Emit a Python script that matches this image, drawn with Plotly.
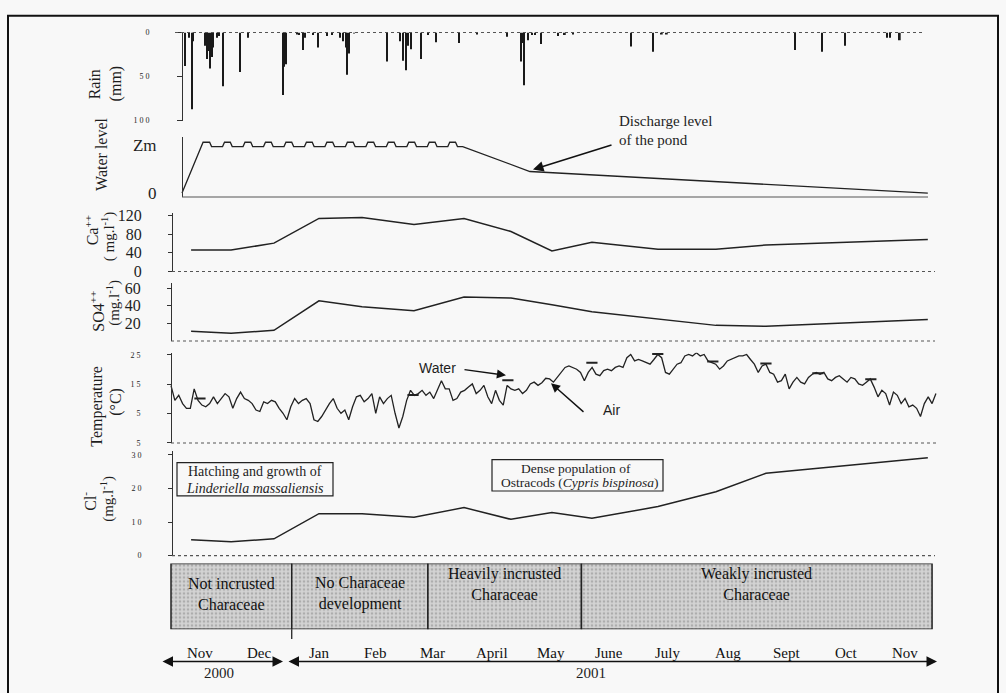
import plotly.graph_objects as go

# ---------------- DATA (x = days since 1 Nov 2000) ----------------
rain_day = [7.2, 9.3, 10.9, 11.4, 17.6, 18.6, 19.2, 20.2, 21.2, 21.7, 23.8, 24.8, 26.9, 35.7, 39.9,
            58.0, 58.5, 59.5, 65.2, 66.3, 68.3, 69.4, 73.5, 76.1, 80.7, 83.3, 87.5, 89.0, 90.6, 91.1,
            92.1, 94.7, 111.8, 118.5, 120.1, 121.6, 122.7, 124.2, 129.4, 133.0, 137.2, 149.1, 158.4,
            173.9, 181.2, 182.2, 182.7, 184.8, 186.9, 188.4, 191.5, 200.3, 203.9, 208.1, 238.1, 249.5,
            254.1, 256.7, 323.0, 337.0, 348.9, 370.6, 372.2, 377.3]
rain_mm = [38, 6, 87, 10, 15, 30, 21, 41, 28, 17, 6, 4, 61, 45, 6,
           71, 39, 36, 2, 3, 20, 6, 3, 17, 4, 3, 6, 10, 17, 48,
           24, 1, 33, 10, 32, 43, 15, 19, 30, 3, 11, 12, 2,
           5, 33, 12, 60, 9, 3, 3, 13, 4, 3, 2, 16, 22,
           2, 2, 20, 22, 15, 6, 6, 9]

# water level relative to Zm (=1)
wl_day = [5.7, 16.6, 20.0, 21.0,
          26.7, 27.7, 30.7, 31.7,
          37.3, 38.3, 41.3, 42.3,
          47.9, 48.9, 51.9, 52.9,
          58.5, 59.5, 62.5, 63.5,
          69.1, 70.1, 73.1, 74.1,
          79.7, 80.7, 83.7, 84.7,
          90.3, 91.3, 94.3, 95.3,
          100.9, 101.9, 104.9, 105.9,
          111.5, 112.5, 115.5, 116.5,
          122.1, 123.1, 126.1, 127.1,
          132.7, 133.7, 136.7, 137.7,
          143.3, 144.3, 147.3, 148.3,
          151.0, 185.8, 391.8]
wl_val = [0.0, 1.06, 1.06, 0.97,
          0.97, 1.06, 1.06, 0.97,
          0.97, 1.06, 1.06, 0.97,
          0.97, 1.06, 1.06, 0.97,
          0.97, 1.06, 1.06, 0.97,
          0.97, 1.06, 1.06, 0.97,
          0.97, 1.06, 1.06, 0.97,
          0.97, 1.06, 1.06, 0.97,
          0.97, 1.06, 1.06, 0.97,
          0.97, 1.06, 1.06, 0.97,
          0.97, 1.06, 1.06, 0.97,
          0.97, 1.06, 1.06, 0.97,
          0.97, 1.06, 1.06, 0.97,
          0.97, 0.45, 0.0]

ca_day = [10.4, 31.1, 53.3, 76.6, 98.9, 125.8, 151.7, 176.0, 197.2, 217.9, 252.1, 282.1, 308.0, 391.8]
ca_val = [46, 46, 61, 114, 116, 101, 114, 86, 44, 63, 48, 48, 57, 69]

so4_day = [10.4, 31.1, 53.3, 76.6, 98.9, 125.8, 151.7, 176.0, 197.2, 217.9, 282.1, 308.0, 391.8]
so4_val = [11.1, 8.9, 12.2, 45.6, 38.9, 34.4, 50.0, 48.9, 41.1, 33.3, 17.8, 16.7, 24.4]

air_day = list(range(0, 397, 2))
air_temp = [14.5, 9.5, 11.2, 8.4, 6.8, 6.8, 13.4, 9.5, 7.9, 7.3,
            8.4, 10.7, 8.4, 10.1, 11.8, 10.7, 6.8, 10.1, 12.3, 10.1,
            9.5, 8.4, 6.2, 5.7, 9.0, 8.4, 9.5, 9.0, 6.8, 5.1,
            2.9, 7.3, 10.1, 8.4, 9.5, 10.1, 8.4, 2.9, 2.3, 4.0,
            6.2, 8.4, 10.1, 6.8, 5.1, 6.2, 2.9, 7.3, 10.7, 11.2,
            9.0, 10.1, 11.8, 5.1, 10.7, 8.4, 10.1, 11.2, 5.1, 0.1,
            4.0, 9.5, 12.9, 11.2, 11.8, 12.9, 11.2, 12.3, 10.1, 12.9,
            16.2, 13.4, 13.4, 9.5, 10.1, 12.3, 12.9, 14.0, 15.1, 11.8,
            12.9, 14.6, 10.7, 8.4, 12.9, 9.5, 7.9, 14.6, 13.4, 12.9,
            13.4, 11.8, 12.9, 15.1, 15.7, 14.6, 15.5, 17.0, 16.8, 15.7,
            17.3, 19.0, 20.7, 21.2, 20.7, 20.1, 19.0, 16.2, 19.0, 20.7,
            18.4, 17.9, 19.6, 20.1, 19.6, 20.7, 21.2, 20.7, 24.0, 25.1,
            22.9, 23.4, 22.9, 22.3, 21.8, 23.4, 25.1, 24.0, 19.0, 18.4,
            20.1, 21.8, 22.3, 24.6, 25.1, 24.6, 25.7, 24.6, 25.1, 22.9,
            22.3, 21.8, 20.1, 21.2, 22.9, 23.4, 24.0, 24.6, 24.6, 25.1,
            23.4, 21.8, 19.0, 21.2, 21.8, 19.0, 18.4, 15.7, 16.2, 18.4,
            13.4, 15.7, 17.3, 15.7, 15.1, 17.3, 18.4, 19.0, 18.4, 19.0,
            16.8, 16.2, 17.3, 17.9, 16.8, 15.7, 17.3, 16.8, 15.1, 14.6,
            15.7, 16.8, 14.0, 10.7, 12.9, 11.8, 7.9, 12.3, 11.2, 8.4,
            10.1, 7.3, 7.9, 6.8, 4.0, 8.4, 10.7, 8.4, 11.8]
water_day = [15.0, 125.3, 174.4, 217.9, 252.0, 280.5, 308.0, 334.9, 362.3]
water_temp = [10.1, 11.3, 16.3, 22.3, 25.3, 22.7, 22.0, 18.7, 16.7]

cl_day = [10.4, 31.1, 53.3, 76.6, 98.9, 125.8, 151.7, 176.0, 197.2, 217.9, 252.1, 282.1, 308.0, 391.8]
cl_val = [4.7, 4.1, 5.0, 12.5, 12.5, 11.4, 14.3, 10.8, 12.8, 11.1, 14.6, 19.0, 24.5, 29.1]

phase_bounds = [0, 62.5, 133, 212.5, 394]
phase_labels = ["Not incrusted<br>Characeae", "No Characeae<br>development",
                "Heavily incrusted<br>Characeae", "Weakly incrusted<br>Characeae"]

month_start = [0, 30, 61, 92, 120, 151, 181, 212, 242, 273, 304, 334, 365, 395]
month_labels = ["Nov", "Dec", "Jan", "Feb", "Mar", "April", "May", "June", "July", "Aug", "Sept", "Oct", "Nov"]
year_labels = ["2000", "2001"]

# ---------------- LAYOUT HELPERS ----------------
W, H = 1006, 693
DAY_PX0 = 171.0
PX_PER_DAY = (934 - 171) / 395.0
SERIF = "Liberation Serif, Times New Roman, serif"
SANS = "Liberation Sans, Arial, sans-serif"
INK = "#1e1e1e"


def fx(p):
    return p / W


def fy(p):
    return 1 - p / H


def x_range(p0, p1):
    return [(p0 - DAY_PX0) / PX_PER_DAY, (p1 - DAY_PX0) / PX_PER_DAY]


def ydom(top, bottom):
    return [fy(bottom), fy(top)]


def yax(top, bottom, rng, pos, tickvals, ticktext, fsize, family, standoff, ticks="outside", ticklen=4):
    return dict(domain=ydom(top, bottom), range=rng, anchor="free", position=fx(pos),
                showline=True, linecolor="#333", linewidth=1, ticks=ticks, ticklen=ticklen,
                tickcolor="#333", tickvals=tickvals, ticktext=ticktext,
                tickfont=dict(family=family, size=fsize, color=INK),
                ticklabelstandoff=standoff, showgrid=False, zeroline=False)


fig = go.Figure()

fig.add_trace(go.Bar(x=rain_day, y=rain_mm, width=0.9, marker=dict(color="#1a1a1a", line=dict(width=0)),
                     xaxis="x", yaxis="y"))
fig.add_trace(go.Scatter(x=wl_day, y=wl_val, mode="lines", line=dict(color="#222", width=1.3),
                         xaxis="x", yaxis="y2"))
fig.add_trace(go.Scatter(x=ca_day, y=ca_val, mode="lines", line=dict(color="#222", width=1.5),
                         xaxis="x", yaxis="y3"))
fig.add_trace(go.Scatter(x=so4_day, y=so4_val, mode="lines", line=dict(color="#222", width=1.5),
                         xaxis="x", yaxis="y4"))
fig.add_trace(go.Scatter(x=air_day, y=air_temp, mode="lines", line=dict(color="#222", width=1.3),
                         xaxis="x", yaxis="y5"))
fig.add_trace(go.Scatter(x=water_day, y=water_temp, mode="markers",
                         marker=dict(symbol="line-ew", size=8, line=dict(color="#222", width=2)),
                         xaxis="x", yaxis="y5"))
fig.add_trace(go.Scatter(x=cl_day, y=cl_val, mode="lines", line=dict(color="#222", width=1.5),
                         xaxis="x", yaxis="y6"))
phase_mid = [(a + b) / 2 for a, b in zip(phase_bounds[:-1], phase_bounds[1:])]
phase_w = [b - a for a, b in zip(phase_bounds[:-1], phase_bounds[1:])]
fig.add_trace(go.Bar(x=phase_mid, y=[1] * len(phase_mid), width=phase_w, xaxis="x", yaxis="y7",
                     marker=dict(color="#cfcfcf",
                                 pattern=dict(shape=".", fgcolor="#888888", bgcolor="#d3d3d3",
                                              size=4, solidity=0.35),
                                 line=dict(color="#222", width=1.5))))

layout = dict(
    width=W, height=H, margin=dict(l=0, r=0, t=0, b=0), autosize=False,
    paper_bgcolor="#f8f8f8", plot_bgcolor="rgba(0,0,0,0)", showlegend=False, barmode="overlay",
    xaxis=dict(domain=[fx(150), fx(960)], range=x_range(150, 960), visible=False, anchor="y"),
    xaxis2=dict(domain=[fx(171), fx(934)], range=[month_start[0], month_start[-1]], anchor="y8", side="top",
                showline=True, linecolor="#222", linewidth=1.5, ticks="inside", ticklen=6, tickwidth=1.3,
                tickcolor="#222", tickvals=month_start, showticklabels=False, showgrid=False, zeroline=False),
    yaxis=yax(28, 118, [100, 0], 182, [0, 50, 100], ["0", "5 0", "1 0 0"], 8, SERIF, 26, ticklen=5),
    yaxis2=yax(135, 196, [(192 - 196) / 49, (192 - 135) / 49], 182, [0, 1], ["0", "Zm"], 17, SERIF, 22, ticks=""),
    yaxis3=yax(212, 272, [0, (272 - 212) / 0.475], 172, [0, 40, 80, 120], ["0", "40", "80", "120"], 16, SERIF, 23),
    yaxis4=yax(284, 343, [0, (343 - 284) / 0.9], 171, [20, 40, 60], ["20", "40", "60"], 16, SERIF, 23),
    yaxis5=yax(355, 447, [-5, 25 + 2 / 3.0], 171, [-5, 5, 15, 25], ["5", "5", "1 5", "2 5"], 8, SERIF, 25),
    yaxis6=yax(455, 562, [0, (562 - 455) / 3.43], 172, [0, 10, 20, 30], ["0", "1 0", "2 0", "3 0"], 8, SERIF, 25),
    yaxis7=dict(domain=ydom(570, 637), range=[0, 1], visible=False, anchor="x"),
    yaxis8=dict(domain=ydom(642, 648), range=[0, 1], visible=False, anchor="x2"),
)
fig.update_layout(**layout)

shapes = []
shapes.append(dict(type="rect", xref="paper", yref="paper", x0=fx(8), x1=fx(998), y0=fy(720), y1=fy(11),
                   line=dict(color="#111", width=2)))
for (y, a, b, dash) in [(28, 175, 925, "dot"), (196, 182, 928, "solid"), (272, 172, 935, "dot"),
                        (343, 171, 935, "dot"), (447, 171, 937, "dot"), (562, 172, 935, "dot")]:
    shapes.append(dict(type="line", xref="paper", yref="paper", x0=fx(a), x1=fx(b), y0=fy(y), y1=fy(y),
                       line=dict(color="#555", width=1.1, dash=dash)))
shapes.append(dict(type="rect", xref="paper", yref="paper", x0=fx(177), x1=fx(333), y0=fy(501), y1=fy(467),
                   line=dict(color="#222", width=1.2)))
shapes.append(dict(type="rect", xref="paper", yref="paper", x0=fx(492), x1=fx(663), y0=fy(496), y1=fy(464),
                   line=dict(color="#222", width=1.2)))
shapes.append(dict(type="line", xref="x", yref="paper", x0=phase_bounds[1], x1=phase_bounds[1],
                   y0=fy(647), y1=fy(637), line=dict(color="#222", width=1.3)))
fig.update_layout(shapes=shapes)

ann = []


def text_at(text, cx, cy, size, family=SERIF, angle=0, xanchor="center"):
    ann.append(dict(text=text, xref="paper", yref="paper", x=fx(cx), y=fy(cy), textangle=angle,
                    showarrow=False, xanchor=xanchor, yanchor="middle", align="center",
                    font=dict(family=family, size=size, color=INK)))


# y titles (each line separately)
text_at("Rain", 94, 81, 16, angle=-90)
text_at("(mm)", 116, 80, 16, angle=-90)
text_at("Water level", 102, 153, 16, angle=-90)
text_at("Ca<sup>++</sup>", 92, 230, 16, angle=-90)
text_at("( mg.l<sup>-1</sup>)", 108, 236, 15, angle=-90)
text_at("SO4<sup>++</sup>", 97, 313, 16, angle=-90)
text_at("(mg.l<sup>-1</sup>)", 114, 304, 15, angle=-90)
text_at("Temperature", 97, 410, 16, angle=-90)
text_at("(°C)", 116, 405, 16, angle=-90)
text_at("Cl<sup>-</sup>", 89, 507, 16, angle=-90)
text_at("(mg.l<sup>-1</sup>)", 108, 504, 15, angle=-90)

# discharge level annotation
ann.append(dict(text="", x=(533 - DAY_PX0) / PX_PER_DAY, y=(192 - 168) / 49, xref="x", yref="y2",
                ax=80, ay=-25, showarrow=True, arrowhead=2, arrowsize=1.4, arrowwidth=1.5, arrowcolor="#111"))
text_at("Discharge level", 617, 118, 15, xanchor="left")
text_at("of the pond", 617, 138, 15, xanchor="left")
# Water / Air labels
ann.append(dict(text="", x=(506 - DAY_PX0) / PX_PER_DAY, y=25 - (378 - 357) / 3.0, xref="x", yref="y5",
                ax=-43, ay=-6, showarrow=True, arrowhead=2, arrowsize=1.3, arrowwidth=1.4, arrowcolor="#111"))
text_at("Water", 437, 370, 14, family=SANS)
ann.append(dict(text="", x=(551 - DAY_PX0) / PX_PER_DAY, y=25 - (386 - 357) / 3.0, xref="x", yref="y5",
                ax=34, ay=30, showarrow=True, arrowhead=2, arrowsize=1.3, arrowwidth=1.4, arrowcolor="#111"))
text_at("Air", 611, 413, 14, family=SANS)
# text boxes
text_at("Hatching and growth of", 255, 476, 14)
text_at("<i>Linderiella massaliensis</i>", 255, 493, 14)
text_at("Dense population of", 576, 473, 13.5)
text_at("Ostracods (<i>Cypris bispinosa</i>)", 580, 487, 13.5)
# phase labels
for i, (m, lab) in enumerate(zip(phase_mid, phase_labels)):
    cy = 601 if i < 2 else 591
    ann.append(dict(text=lab, x=m, xref="x", y=fy(cy), yref="paper", showarrow=False,
                    xanchor="center", yanchor="middle",
                    font=dict(family=SERIF, size=16, color="#111")))
# months
for i, lab in enumerate(month_labels):
    ann.append(dict(text=lab, x=(month_start[i] + month_start[i + 1]) / 2, xref="x", y=fy(661), yref="paper",
                    showarrow=False, xanchor="center", yanchor="middle",
                    font=dict(family=SERIF, size=15, color="#111")))
# year arrows
ann.append(dict(text="", x=fx(283), y=fy(670), xref="paper", yref="paper", ax=-122, ay=0, showarrow=True,
                arrowhead=2, startarrowhead=2, arrowside="end+start", arrowsize=1.4, arrowwidth=1.5,
                arrowcolor="#111"))
ann.append(dict(text="", x=fx(937), y=fy(670), xref="paper", yref="paper", ax=-650, ay=0, showarrow=True,
                arrowhead=2, startarrowhead=2, arrowside="end+start", arrowsize=1.4, arrowwidth=1.5,
                arrowcolor="#111"))
for lab, cx in zip(year_labels, [219, 591]):
    text_at(lab, cx, 682, 15)

fig.update_layout(annotations=ann)
fig.write_html("out.html", config={"displayModeBar": False},
               post_script="document.body.style.margin='0';document.body.style.overflow='hidden';")
